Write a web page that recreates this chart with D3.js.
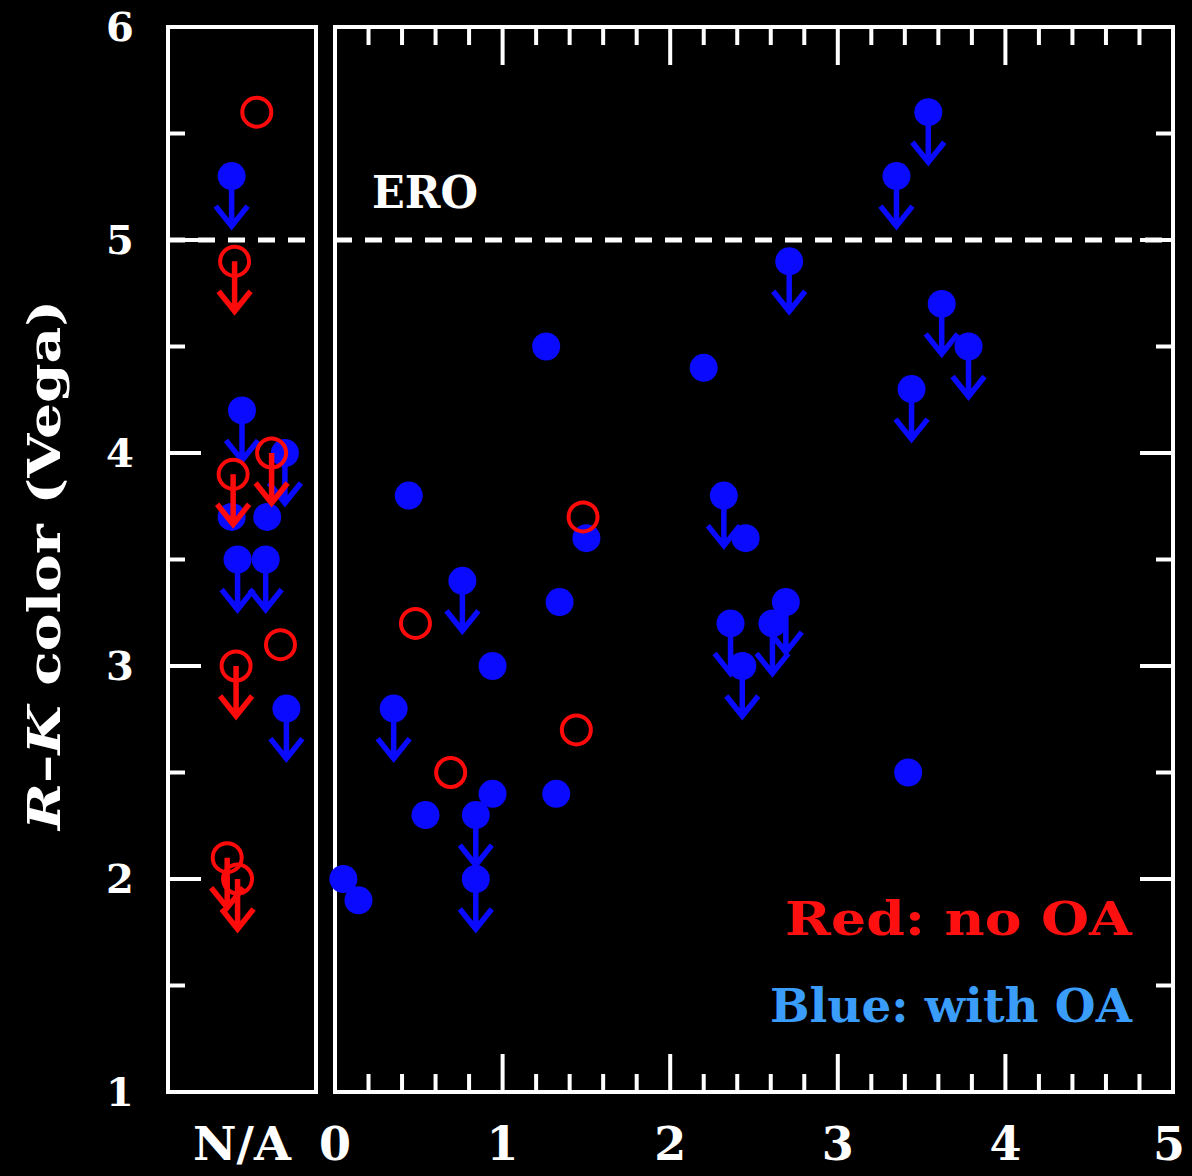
<!DOCTYPE html>
<html><head><meta charset="utf-8">
<script src="https://cdn.jsdelivr.net/npm/d3@7"></script>
<style>html,body{margin:0;padding:0;background:#000;}svg{display:block;}</style>
</head><body>
<script>
// ---- data ----
// N/A panel: x is a jitter position in [0,1] across the panel, v = R-K colour, lim = upper limit
const naBlueX   = [0.43, 0.50, 0.79, 0.43, 0.67, 0.47, 0.66, 0.80];
const naBlueV   = [5.3,  4.2,  4.0,  3.7,  3.7,  3.5,  3.5,  2.8];
const naBlueLim = [1,    1,    1,    0,    0,    1,    1,    1];
const naRedX    = [0.60, 0.45, 0.44, 0.70, 0.46, 0.76, 0.40, 0.47];
const naRedV    = [5.6,  4.9,  3.9,  4.0,  3.0,  3.1,  2.1,  2.0];
const naRedLim  = [0,    1,    1,    1,    1,    0,    1,    1];
// redshift panel
const zBlue    = [0.05,0.14,0.35,0.44,0.54,0.76,0.84,0.84,0.94,0.94,1.26,1.32,1.34,1.50,2.20,2.32,2.45,2.36,2.43,2.61,2.69,2.71,3.35,3.54,3.62,3.78,3.44,3.42];
const vBlue    = [2.0, 1.9, 2.8, 3.8, 2.3, 3.4, 2.3, 2.0, 3.0, 2.4, 4.5, 2.4, 3.3, 3.6, 4.4, 3.8, 3.6, 3.2, 3.0, 3.2, 3.3, 4.9, 5.3, 5.6, 4.7, 4.5, 4.3, 2.5];
const limBlue  = [0,   0,   1,   0,   0,   1,   1,   1,   0,   0,   0,   0,   0,   0,   0,   1,   0,   1,   1,   1,   1,   1,   1,   1,   1,   1,   1,   0];
const zRed     = [1.48, 0.48, 0.69, 1.44];
const vRed     = [3.7,  3.2,  2.5,  2.7];
const limRed   = [0,    0,    0,    0];
const yTicks   = [1, 2, 3, 4, 5, 6];
const xTicks   = [0, 1, 2, 3, 4, 5];
const eroLimit = 5;

// ---- layout ----
const W = 1192, H = 1176;
const TOP = 27, BOT = 1092;
const L0 = 168, L1 = 316, R0 = 335, R1 = 1173;
const BLUE = "#0a0aff", RED = "#ff0a0a", WHITE = "#ffffff";
const FONT = "'DejaVu Serif', serif";

const svg = d3.select("body").append("svg").attr("width", W).attr("height", H)
  .style("background", "#000");
svg.append("rect").attr("width", W).attr("height", H).attr("fill", "#000");

const y = d3.scaleLinear().domain([1, 6]).range([BOT, TOP]);
const xL = d3.scaleLinear().domain([0, 1]).range([L0, L1]);
const xR = d3.scaleLinear().domain([0, 5]).range([R0, R1]);

// frames
function frame(x0, x1) {
  svg.append("rect").attr("x", x0).attr("y", TOP).attr("width", x1 - x0).attr("height", BOT - TOP)
    .attr("fill", "none").attr("stroke", WHITE).attr("stroke-width", 4);
}
frame(L0, L1);
frame(R0, R1);

// ticks
const g = svg.append("g").attr("stroke", WHITE).attr("stroke-width", 4);
const yMinor = d3.range(1, 6.01, 0.5);
yMinor.forEach(v => {
  const major = Math.abs(v - Math.round(v)) < 1e-6;
  const len = major ? 33 : 17;
  // left panel, left side
  g.append("line").attr("x1", L0).attr("x2", L0 + len).attr("y1", y(v)).attr("y2", y(v));
  // right panel, right side
  g.append("line").attr("x1", R1).attr("x2", R1 - len).attr("y1", y(v)).attr("y2", y(v));
});
const xMinor = d3.range(0, 5.001, 0.2);
xMinor.forEach(z => {
  const major = Math.abs(z - Math.round(z)) < 1e-6;
  const len = major ? 38 : 18;
  g.append("line").attr("x1", xR(z)).attr("x2", xR(z)).attr("y1", BOT).attr("y2", BOT - len);
  g.append("line").attr("x1", xR(z)).attr("x2", xR(z)).attr("y1", TOP).attr("y2", TOP + len);
});

// tick labels
svg.selectAll(".ytl").data(yTicks).enter().append("text")
  .attr("x", 120).attr("y", d => y(d)).attr("dy", "0.36em")
  .attr("text-anchor", "middle").attr("fill", WHITE)
  .attr("font-family", FONT).attr("font-size", 40).attr("font-weight", "bold")
  .text(d => d);
svg.selectAll(".xtl").data(xTicks).enter().append("text")
  .attr("x", d => xR(d) + (d === 5 ? -4 : 0)).attr("y", 1160)
  .attr("text-anchor", "middle").attr("fill", WHITE)
  .attr("font-family", FONT).attr("font-size", 46).attr("font-weight", "bold")
  .text(d => d);
svg.append("text").attr("x", 242).attr("y", 1160).attr("text-anchor", "middle")
  .attr("fill", WHITE).attr("font-family", FONT).attr("font-size", 46).attr("font-weight", "bold")
  .attr("textLength", 98).attr("lengthAdjust", "spacingAndGlyphs").text("N/A");

// y-axis label
const yl = svg.append("text").attr("transform", "translate(60,565) rotate(-90)")
  .attr("text-anchor", "middle").attr("fill", WHITE)
  .attr("font-family", FONT).attr("font-size", 44).attr("font-weight", "bold")
  .attr("textLength", 530).attr("lengthAdjust", "spacingAndGlyphs");
yl.append("tspan").attr("font-style", "italic").text("R");
yl.append("tspan").text("\u2013");
yl.append("tspan").attr("font-style", "italic").text("K");
yl.append("tspan").text(" color (Vega)");

// ERO dashed line
[[L0, L1], [R0, R1]].forEach(([a, b]) => {
  svg.append("line").attr("x1", a).attr("x2", b).attr("y1", y(eroLimit)).attr("y2", y(eroLimit))
    .attr("stroke", WHITE).attr("stroke-width", 5).attr("stroke-dasharray", "17,13");
});
svg.append("text").attr("x", 372).attr("y", 208).attr("fill", WHITE)
  .attr("font-family", FONT).attr("font-size", 44).attr("font-weight", "bold")
  .attr("textLength", 106).attr("lengthAdjust", "spacingAndGlyphs").text("ERO");

// legend
svg.append("text").attr("x", 1132).attr("y", 935).attr("text-anchor", "end").attr("fill", "#ff1010")
  .attr("font-family", FONT).attr("font-size", 46).attr("font-weight", "bold")
  .attr("textLength", 347).attr("lengthAdjust", "spacingAndGlyphs").text("Red: no OA");
svg.append("text").attr("x", 1132).attr("y", 1022).attr("text-anchor", "end").attr("fill", "#3a9dfa")
  .attr("font-family", FONT).attr("font-size", 46).attr("font-weight", "bold")
  .attr("textLength", 362).attr("lengthAdjust", "spacingAndGlyphs").text("Blue: with OA");

// markers
function arrow(sel, cx, cy, col) {
  sel.append("path")
    .attr("d", `M${cx},${cy} L${cx},${cy + 50} M${cx - 16},${cy + 30} L${cx},${cy + 50} L${cx + 16},${cy + 30}`)
    .attr("fill", "none").attr("stroke", col).attr("stroke-width", 5.5)
    .attr("stroke-linejoin", "miter").attr("stroke-linecap", "butt");
}
function drawBlue(xs, vs, lims, xScale) {
  const gg = svg.append("g");
  xs.forEach((xv, i) => {
    const cx = xScale(xv), cy = y(vs[i]);
    gg.append("circle").attr("cx", cx).attr("cy", cy).attr("r", 14).attr("fill", BLUE);
    if (lims[i]) arrow(gg, cx, cy, BLUE);
  });
}
function drawRed(xs, vs, lims, xScale) {
  const gg = svg.append("g");
  xs.forEach((xv, i) => {
    const cx = xScale(xv), cy = y(vs[i]);
    gg.append("circle").attr("cx", cx).attr("cy", cy).attr("r", 14.5)
      .attr("fill", "none").attr("stroke", RED).attr("stroke-width", 4);
    if (lims[i]) arrow(gg, cx, cy, RED);
  });
}
drawBlue(naBlueX, naBlueV, naBlueLim, xL);
drawBlue(zBlue, vBlue, limBlue, xR);
drawRed(naRedX, naRedV, naRedLim, xL);
drawRed(zRed, vRed, limRed, xR);
</script>
</body></html>
